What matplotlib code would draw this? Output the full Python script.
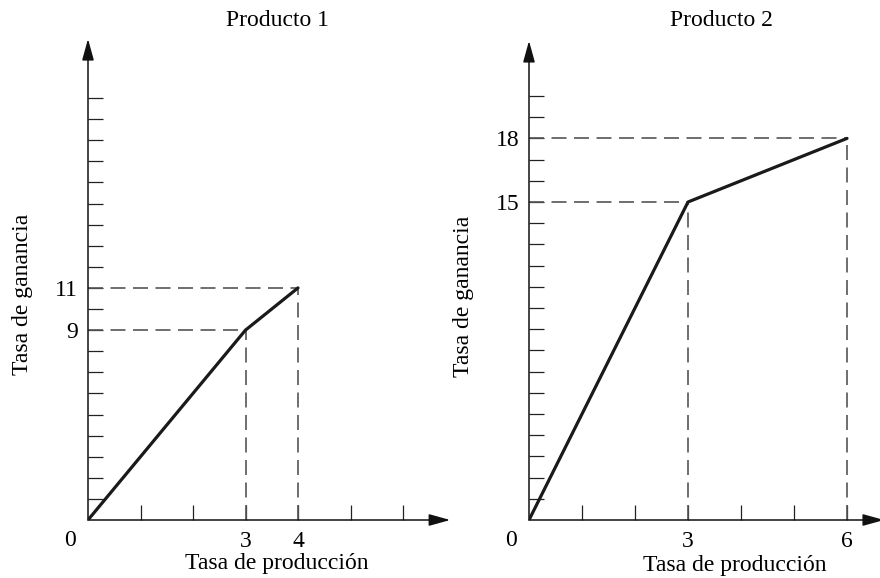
import matplotlib
matplotlib.use("Agg")
import matplotlib.pyplot as plt

plt.rcParams["font.family"] = ["Liberation Serif", "DejaVu Serif"]
plt.rcParams["font.size"] = 17

# --- data -------------------------------------------------------------------
titles = ["Producto 1", "Producto 2"]
xlabel = "Tasa de producción"
ylabel = "Tasa de ganancia"

p1_x = [0, 3, 4]
p1_y = [0, 9, 11]
p2_x = [0, 3, 6]
p2_y = [0, 15, 18]

x_ticks = [1, 2, 3, 4, 5, 6]
y_ticks = list(range(1, 21))

W, H = 880, 578
fig = plt.figure(figsize=(W / 100, H / 100), dpi=100)


def panel(ox, oy, xu, yu, xmax, ymax, xs, ys):
    """Axes whose data origin sits at pixel (ox, oy) counted from top-left."""
    ax = fig.add_axes([ox / W, (H - oy) / H, xmax * xu / W, ymax * yu / H])
    ax.set_xlim(0, xmax)
    ax.set_ylim(0, ymax)
    for s in ax.spines.values():
        s.set_visible(False)
    ax.patch.set_alpha(0)

    ax.set_xticks(x_ticks)
    ax.set_xticklabels([str(v) if v in xs[1:] else "" for v in x_ticks])
    ax.set_yticks(y_ticks)
    ax.set_yticklabels([str(v) if v in ys[1:] else "" for v in y_ticks])
    ax.tick_params(direction="in", length=10.8, width=0.9, pad=7, color="#222222")
    ax.tick_params(axis="x", pad=8)

    arrow = dict(arrowstyle="-|>,head_length=1.3,head_width=0.36", color="#111111",
                 lw=1.1, shrinkA=0, shrinkB=0, mutation_scale=10)
    ax.annotate("", xy=(xmax, 0), xytext=(0, 0), arrowprops=arrow, annotation_clip=False)
    ax.annotate("", xy=(0, ymax), xytext=(0, 0), arrowprops=arrow, annotation_clip=False)

    # guide lines to the break points
    dash = dict(color="#555555", lw=1.2, dashes=(9, 4.5))
    for x, y in zip(xs[1:], ys[1:]):
        ax.plot([x, x], [0, y], **dash)
        ax.plot([0, x], [y, y], **dash)

    ax.plot(xs, ys, color="#1a1a1a", lw=2.3, solid_capstyle="round", zorder=3)

    ax.annotate("0", xy=(0, 0), xytext=(-13, -14.5), textcoords="offset points",
                ha="center", va="center")
    return ax


panel(88, 520, 52.5, 21.1, 6.9, 22.8, p1_x, p1_y)
panel(529, 520, 53.0, 21.2, 6.7, 22.6, p2_x, p2_y)

fig.text(277 / W, 1 - 20 / H, titles[0], ha="center", va="center")
fig.text(721 / W, 1 - 20 / H, titles[1], ha="center", va="center")
fig.text(277 / W, 1 - 563 / H, xlabel, ha="center", va="center")
fig.text(735 / W, 1 - 565 / H, xlabel, ha="center", va="center")
fig.text(23 / W, 1 - 294 / H, ylabel, ha="center", va="center", rotation=90)
fig.text(464 / W, 1 - 296 / H, ylabel, ha="center", va="center", rotation=90)

fig.savefig("out.png", dpi=100)
